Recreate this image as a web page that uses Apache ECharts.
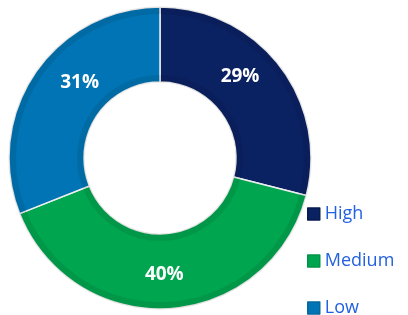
<!DOCTYPE html>
<html>
<head>
<meta charset="utf-8">
<script src="https://cdn.jsdelivr.net/npm/echarts@6/dist/echarts.min.js"></script>
<style>
  html, body { margin: 0; padding: 0; background: #fff; }
  #chart { width: 408px; height: 315px; }
</style>
</head>
<body>
<div id="chart"></div>
<script>
// donut: share of items by level
var categories = ['High', 'Medium', 'Low'];
var values = [29, 40, 31];
var colors = ['#0a2162', '#00a54f', '#0074b4'];
var borders = ['#061a50', '#029446', '#05679f'];

var seriesData = [];
var edgeData = [];
for (var i = 0; i < categories.length; i++) {
    seriesData.push({
        name: categories[i],
        value: values[i],
        itemStyle: { color: colors[i] }
    });
    edgeData.push({ name: categories[i], value: values[i] });
}

// nudges so labels sit where the original put them
var labelShift = { 'High': [-12, -10], 'Medium': [-3, 0], 'Low': [16, -10] };

// one legend per entry, stacked by hand (a single one wraps into a new column)
var legends = categories.map(function (c, i) {
    return {
        orient: 'vertical',
        left: 307,
        top: 205 + i * 47,
        padding: 0,
        itemWidth: 12,
        itemHeight: 12,
        icon: 'rect',
        data: [{ name: c, itemStyle: { color: colors[i], borderColor: borders[i], borderWidth: 1.5 } }],
        textStyle: { color: '#2261e0', fontSize: 18, lineHeight: 16, fontFamily: 'Open Sans' }
    };
});

// thin darker rims to mimic the bevel of the original
function rim(r0, r1) {
    return {
        type: 'pie',
        center: [160, 158],
        radius: [r0, r1],
        startAngle: 90,
        clockwise: true,
        silent: true,
        z: 3,
        label: { show: false },
        labelLine: { show: false },
        itemStyle: { color: 'rgba(0,0,0,0.08)', borderWidth: 0 },
        data: edgeData
    };
}

var option = {
    animation: false,
    legend: legends,
    series: [{
        type: 'pie',
        center: [160, 158],
        radius: [76, 151],
        startAngle: 90,
        clockwise: true,
        z: 2,
        itemStyle: { borderColor: '#eeeeee', borderWidth: 1.5 },
        label: {
            show: true,
            position: 'inside',
            formatter: '{c}%',
            color: '#fff',
            fontSize: 19,
            fontWeight: 'bold',
            fontFamily: 'Open Sans'
        },
        labelLayout: function (params) {
            var s = labelShift[categories[params.dataIndex]];
            return { dx: s[0], dy: s[1] };
        },
        labelLine: { show: false },
        emphasis: { disabled: true },
        data: seriesData
    }, rim(144, 151), rim(76, 83)]
};

var myChart = echarts.init(document.getElementById('chart'));
myChart.setOption(option);
</script>
</body>
</html>
